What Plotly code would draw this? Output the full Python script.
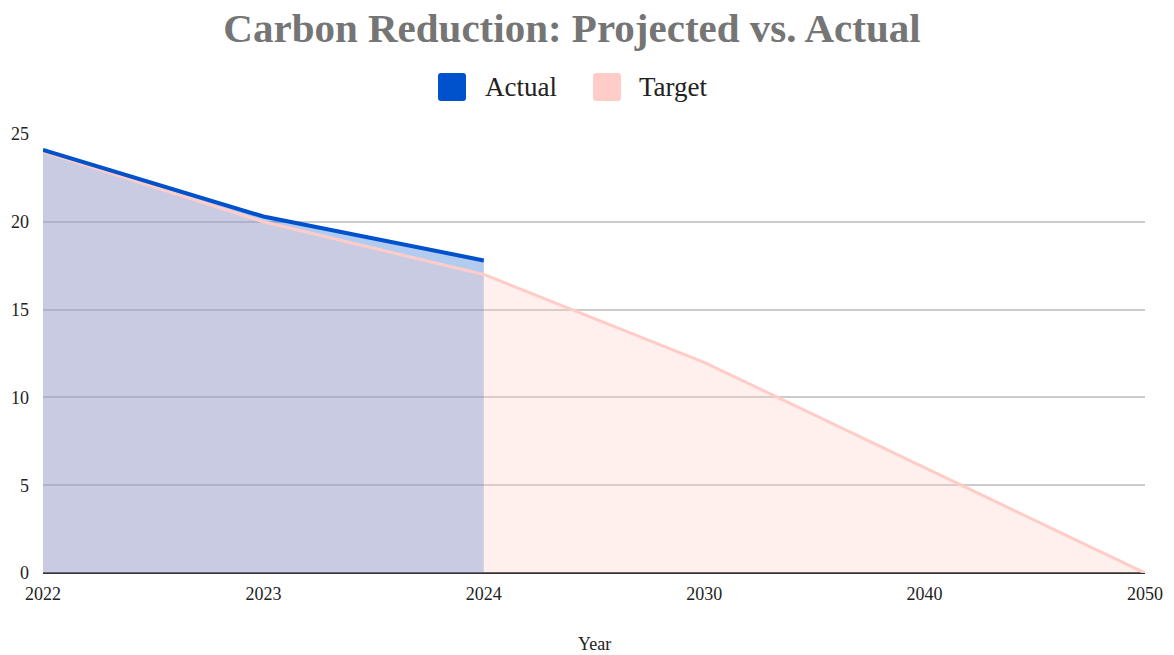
import plotly.graph_objects as go

years = ["2022", "2023", "2024", "2030", "2040", "2050"]
actual_years = ["2022", "2023", "2024"]
actual = [24.1, 20.3, 17.8]
target = [24.0, 20.0, 17.0, 12.0, 6.0, 0.0]
legend_names = ["Actual", "Target"]
x_title = "Year"

ACTUAL_COLOR = "#0052cc"
TARGET_COLOR = "#ffccc7"
FONT = "Liberation Serif, Times New Roman, serif"

# the page adds an 8px body margin, so the figure is drawn 8px in from the corner
OFF = 8
W, H = 1174 - 2 * OFF, 655 - OFF
ML, MT = 43 - OFF, 134 - OFF
MR = W - (1145 - OFF)
MB = H - (573 - OFF)
PW, PH = W - ML - MR, H - MT - MB


def px_x(px):
    return (px - OFF - ML) / PW


def px_y(py):
    return (H - MB - (py - OFF)) / PH


fig = go.Figure()
# fills
fig.add_trace(go.Scatter(x=actual_years, y=actual, mode="lines", fill="tozeroy",
                         line=dict(width=0, color=ACTUAL_COLOR),
                         fillcolor="rgba(0,82,204,0.3)", showlegend=False, hoverinfo="skip"))
fig.add_trace(go.Scatter(x=years, y=target, mode="lines", fill="tozeroy",
                         line=dict(width=0, color=TARGET_COLOR),
                         fillcolor="rgba(255,204,196,0.3)", showlegend=False, hoverinfo="skip"))
# lines
fig.add_trace(go.Scatter(x=years, y=target, mode="lines", name="Target",
                         line=dict(width=3, color=TARGET_COLOR), showlegend=False))
fig.add_trace(go.Scatter(x=actual_years, y=actual, mode="lines", name="Actual",
                         line=dict(width=4, color=ACTUAL_COLOR), showlegend=False))


def rounded_rect(x0, y0, x1, y1, r=3):
    return (f"M {px_x(x0 + r)} {px_y(y0)} L {px_x(x1 - r)} {px_y(y0)} "
            f"Q {px_x(x1)} {px_y(y0)} {px_x(x1)} {px_y(y0 + r)} "
            f"L {px_x(x1)} {px_y(y1 - r)} Q {px_x(x1)} {px_y(y1)} {px_x(x1 - r)} {px_y(y1)} "
            f"L {px_x(x0 + r)} {px_y(y1)} Q {px_x(x0)} {px_y(y1)} {px_x(x0)} {px_y(y1 - r)} "
            f"L {px_x(x0)} {px_y(y0 + r)} Q {px_x(x0)} {px_y(y0)} {px_x(x0 + r)} {px_y(y0)} Z")


legend_items = [(legend_names[0], ACTUAL_COLOR, 438, 484),
                (legend_names[1], TARGET_COLOR, 593, 638)]
shapes = []
annotations = []
for name, color, sx, tx in legend_items:
    shapes.append(dict(type="path", xref="paper", yref="paper",
                       path=rounded_rect(sx, 73, sx + 28, 101, 3),
                       fillcolor=color, line=dict(width=0)))
    annotations.append(dict(text=name, xref="paper", yref="paper",
                            x=px_x(tx), y=px_y(87), xanchor="left", yanchor="middle",
                            showarrow=False, borderpad=0,
                            font=dict(family=FONT, size=27, color="#222222")))
annotations.append(dict(text=x_title, xref="paper", yref="paper",
                        x=0.5, y=px_y(644), xanchor="center", yanchor="middle",
                        showarrow=False, borderpad=0,
                        font=dict(family=FONT, size=18, color="#222222")))

fig.update_layout(
    width=W, height=H,
    margin=dict(l=ML, r=MR, t=MT, b=MB, autoexpand=False),
    paper_bgcolor="white", plot_bgcolor="white",
    font=dict(family=FONT, color="#222222", size=18),
    title=dict(text="<b>Carbon Reduction: Projected vs. Actual</b>",
               x=(572 - OFF) / W, xanchor="center", y=1 - (27.5 - OFF) / H, yanchor="middle",
               font=dict(family=FONT, size=41, color="#757575")),
    showlegend=False,
    shapes=shapes,
    annotations=annotations,
    xaxis=dict(type="category", categoryorder="array", categoryarray=years,
               range=[0, 5], showgrid=False, showline=False, zeroline=False,
               ticks="", automargin=False, ticklabelstandoff=8,
               tickfont=dict(size=18, color="#222222")),
    yaxis=dict(range=[0, 25], dtick=5, showgrid=True, gridcolor="#cccccc", gridwidth=1.5,
               zeroline=True, zerolinecolor="#333333", zerolinewidth=2, automargin=False,
               showline=False, ticks="", ticklabelstandoff=13,
               tickfont=dict(size=18, color="#222222")),
    hovermode=False,
)

fig.write_html("out.html")
